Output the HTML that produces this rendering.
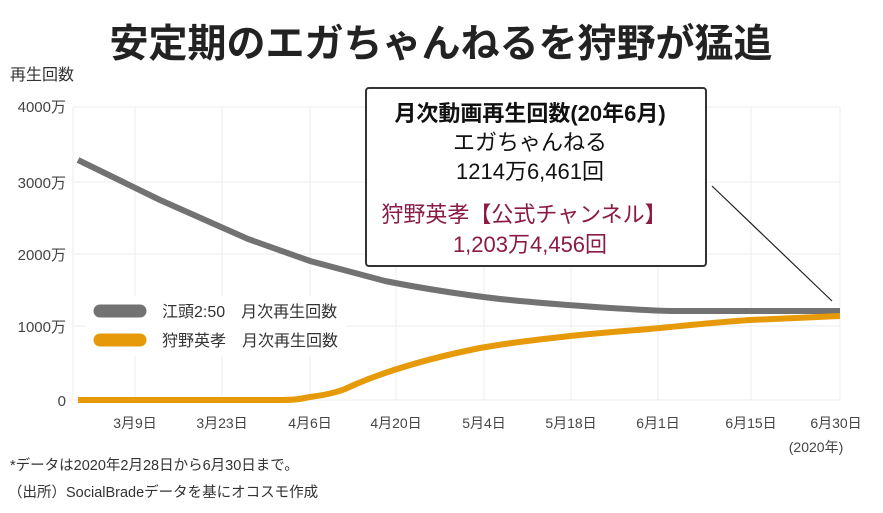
<!DOCTYPE html>
<html><head><meta charset="utf-8"><style>
body{margin:0;background:#fff;width:883px;height:508px;overflow:hidden;font-family:"Liberation Sans","Noto Sans CJK JP",sans-serif;}
svg text{font-family:"Liberation Sans","Noto Sans CJK JP",sans-serif;}
</style></head><body>
<svg width="883" height="508" viewBox="0 0 883 508">
<text x="441" y="57" text-anchor="middle" font-size="39" font-weight="bold" fill="#222">安定期のエガちゃんねるを狩野が猛追</text>
<text x="10" y="80" font-size="16" fill="#333">再生回数</text>
<g stroke="#eeeeee" stroke-width="1">
<line x1="73" y1="107" x2="840" y2="107"/><line x1="73" y1="182" x2="840" y2="182"/>
<line x1="73" y1="254" x2="840" y2="254"/><line x1="73" y1="326" x2="840" y2="326"/>
<line x1="73" y1="400" x2="840" y2="400"/>
<line x1="73" y1="107" x2="73" y2="400"/>
<line x1="135" y1="107" x2="135" y2="400"/><line x1="222" y1="107" x2="222" y2="400"/>
<line x1="310" y1="107" x2="310" y2="400"/><line x1="396" y1="107" x2="396" y2="400"/>
<line x1="484" y1="107" x2="484" y2="400"/><line x1="571" y1="107" x2="571" y2="400"/>
<line x1="658" y1="107" x2="658" y2="400"/><line x1="751" y1="107" x2="751" y2="400"/>
<line x1="840" y1="107" x2="840" y2="400"/>
</g>
<g font-size="15" fill="#444" text-anchor="end">
<text x="66" y="112">4000万</text><text x="66" y="188">3000万</text>
<text x="66" y="260">2000万</text><text x="66" y="332">1000万</text><text x="66" y="406">0</text>
</g>
<g font-size="14" fill="#444" text-anchor="middle">
<text x="135" y="428">3月9日</text><text x="222" y="428">3月23日</text><text x="310" y="428">4月6日</text>
<text x="396" y="428">4月20日</text><text x="484" y="428">5月4日</text><text x="571" y="428">5月18日</text>
<text x="658" y="428">6月1日</text><text x="751" y="428">6月15日</text><text x="836" y="428">6月30日</text>
<text x="816" y="452">(2020年)</text>
</g>
<path d="M78,160 L160,200 L248,239 L310,261 L385,281 C420,288 470,296 510,300 S630,310 672,311 L840,311" fill="none" stroke="#727272" stroke-width="6"/>
<path d="M78,400 L280,400 C295,400 300,399 310,397 C325,395 335,393 345,389 C360,382 370,378 385,373 C420,361 450,354 480,348 C520,341 545,339 570,336 C620,331 640,330 660,328 C700,324 720,322 750,320 L840,316" fill="none" stroke="#e69a0a" stroke-width="6"/>
<rect x="86" y="296" width="260" height="60" fill="#fff"/>
<line x1="100" y1="311" x2="140" y2="311" stroke="#727272" stroke-width="13" stroke-linecap="round"/>
<line x1="100" y1="340" x2="140" y2="340" stroke="#e69a0a" stroke-width="13" stroke-linecap="round"/>
<text x="162" y="317" font-size="16" fill="#333">江頭2:50　月次再生回数</text>
<text x="162" y="346" font-size="16" fill="#333">狩野英孝　月次再生回数</text>
<line x1="712" y1="186" x2="832" y2="301" stroke="#222" stroke-width="1.2"/>
<rect x="366" y="88" width="340" height="178" rx="3" fill="#fff" stroke="#333" stroke-width="2"/>
<g text-anchor="middle" font-size="22">
<text x="530" y="121" font-weight="bold" fill="#111">月次動画再生回数(20年6月)</text>
<text x="530" y="150" fill="#111">エガちゃんねる</text>
<text x="530" y="179" fill="#111">1214万6,461回</text>
<text x="524" y="222" fill="#8b1a47">狩野英孝【公式チャンネル】</text>
<text x="530" y="252" fill="#8b1a47">1,203万4,456回</text>
</g>
<text x="10" y="470" font-size="14.5" fill="#333">*データは2020年2月28日から6月30日まで。</text>
<text x="8" y="497" font-size="14.5" fill="#333">（出所）SocialBradeデータを基にオコスモ作成</text>
</svg>
</body></html>
